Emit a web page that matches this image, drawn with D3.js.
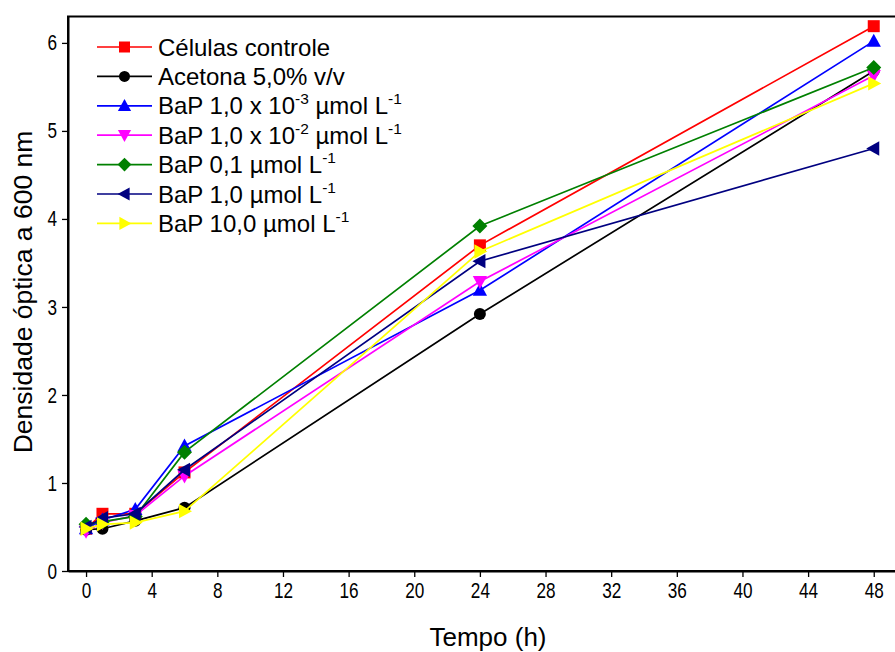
<!DOCTYPE html>
<html>
<head>
<meta charset="utf-8">
<script src="https://cdn.jsdelivr.net/npm/d3@7"></script>
<style>
  html, body { margin: 0; padding: 0; background: #fff; }
  svg { display: block; }
  text { font-family: "Liberation Sans", Arial, sans-serif; fill: #000; }
</style>
</head>
<body>
<svg id="chart" width="895" height="652"></svg>
<script>
// Sampling times (h)
const times = [0, 1, 3, 6, 24, 48];

// Optical density at 600 nm for each treatment
const controle   = [0.48, 0.65, 0.65, 1.12, 3.70, 6.19];
const acetona    = [0.47, 0.48, 0.57, 0.72, 2.92, 5.68];
const bap1e3     = [0.48, 0.58, 0.70, 1.42, 3.19, 6.02];
const bap1e2     = [0.45, 0.55, 0.63, 1.08, 3.29, 5.63];
const bap01      = [0.53, 0.56, 0.62, 1.35, 3.92, 5.72];
const bap10      = [0.50, 0.60, 0.65, 1.15, 3.52, 4.80];
const bap100     = [0.48, 0.53, 0.55, 0.68, 3.63, 5.54];

// Legend labels: pieces of text, superscript pieces flagged
const labels = [
  [["Células controle"]],
  [["Acetona 5,0% v/v"]],
  [["BaP 1,0 x 10"], ["-3", true], [" µmol L"], ["-1", true]],
  [["BaP 1,0 x 10"], ["-2", true], [" µmol L"], ["-1", true]],
  [["BaP 0,1 µmol L"], ["-1", true]],
  [["BaP 1,0 µmol L"], ["-1", true]],
  [["BaP 10,0 µmol L"], ["-1", true]]
];

const xTicks = [0, 4, 8, 12, 16, 20, 24, 28, 32, 36, 40, 44, 48];
const yTicks = [0, 1, 2, 3, 4, 5, 6];

const series = [
  { values: controle, color: "#ff0000", symbol: "square" },
  { values: acetona,  color: "#000000", symbol: "circle" },
  { values: bap1e3,   color: "#0000ff", symbol: "up" },
  { values: bap1e2,   color: "#ff00ff", symbol: "down" },
  { values: bap01,    color: "#008000", symbol: "diamond" },
  { values: bap10,    color: "#000080", symbol: "left" },
  { values: bap100,   color: "#ffff00", symbol: "right" }
];

const svg = d3.select("#chart");
const plotL = 68, plotR = 900, plotT = 16.5, plotB = 571;

const x = d3.scaleLinear().domain([-1.1, 49.6]).range([plotL, plotR]);
const y = d3.scaleLinear().domain([0, 6.3]).range([plotB, plotT]);

// Frame
svg.append("rect")
  .attr("x", plotL).attr("y", plotT)
  .attr("width", plotR - plotL).attr("height", plotB - plotT)
  .attr("fill", "none").attr("stroke", "#000").attr("stroke-width", 2);

// Axes (condensed digit labels)
const xAxis = svg.append("g")
  .attr("transform", `translate(0,${plotB})`)
  .call(d3.axisBottom(x).tickValues(xTicks).tickFormat(d3.format("d"))
    .tickSize(6).tickSizeOuter(0).tickPadding(5));
const yAxis = svg.append("g")
  .attr("transform", `translate(${plotL},0)`)
  .call(d3.axisLeft(y).tickValues(yTicks).tickFormat(d3.format("d"))
    .tickSize(6).tickSizeOuter(0).tickPadding(5));

[xAxis, yAxis].forEach(g => {
  g.select(".domain").attr("stroke-width", 2);
  g.selectAll(".tick line").attr("stroke-width", 1.3);
  g.selectAll("text")
    .style("font-family", "'Liberation Sans', Arial, sans-serif")
    .style("font-size", "22px");
});
xAxis.selectAll(".tick text").attr("transform", "scale(0.78,1)");
yAxis.selectAll(".tick text").attr("x", -14).attr("transform", "scale(0.78,1)");

// Axis titles
svg.append("text")
  .attr("x", 488).attr("y", 646)
  .attr("text-anchor", "middle")
  .style("font-size", "26px")
  .text("Tempo (h)");
svg.append("text")
  .attr("transform", "translate(32,292) rotate(-90)")
  .attr("text-anchor", "middle")
  .style("font-size", "26.5px")
  .text("Densidade óptica a 600 nm");

// Marker shapes
function markerPath(sym, s) {
  const h = s / 2;
  switch (sym) {
    case "square":  return `M${-h},${-h}H${h}V${h}H${-h}Z`;
    case "circle":  return d3.symbol(d3.symbolCircle, Math.PI * h * h)();
    case "up":      return `M0,${-h * 1.15}L${h * 1.1},${h * 0.85}L${-h * 1.1},${h * 0.85}Z`;
    case "down":    return `M0,${h * 1.15}L${h * 1.1},${-h * 0.85}L${-h * 1.1},${-h * 0.85}Z`;
    case "left":    return `M${-h * 1.15},0L${h * 0.85},${-h * 1.1}L${h * 0.85},${h * 1.1}Z`;
    case "right":   return `M${h * 1.15},0L${-h * 0.85},${-h * 1.1}L${-h * 0.85},${h * 1.1}Z`;
    case "diamond": return `M0,${-h * 1.25}L${h * 1.25},0L0,${h * 1.25}L${-h * 1.25},0Z`;
  }
}
const sizeOf = sym => ({ square: 12, circle: 12, up: 13, down: 13, left: 13, right: 13, diamond: 12 })[sym];

const line = d3.line().x((d, i) => x(times[i])).y(d => y(d));

series.forEach(s => {
  const g = svg.append("g");
  g.append("path")
    .datum(s.values)
    .attr("d", line)
    .attr("fill", "none")
    .attr("stroke", s.color)
    .attr("stroke-width", 1.7);
  g.selectAll("path.m")
    .data(s.values)
    .join("path")
    .attr("class", "m")
    .attr("transform", (d, i) => `translate(${x(times[i])},${y(d)})`)
    .attr("d", markerPath(s.symbol, sizeOf(s.symbol)))
    .attr("fill", s.color);
});

// Legend
const lg = svg.append("g");
series.forEach((s, i) => {
  const cy = 47 + i * 29.4;
  lg.append("line")
    .attr("x1", 97).attr("x2", 152).attr("y1", cy).attr("y2", cy)
    .attr("stroke", s.color).attr("stroke-width", 1.7);
  lg.append("path")
    .attr("transform", `translate(124.5,${cy})`)
    .attr("d", markerPath(s.symbol, sizeOf(s.symbol) - 1))
    .attr("fill", s.color);
  const t = lg.append("text")
    .attr("x", 158).attr("y", cy + 8.5)
    .style("font-size", "24px");
  let raised = false;
  labels[i].forEach(([str, sup]) => {
    const dy = sup ? (raised ? 0 : -10) : (raised ? 10 : 0);
    raised = !!sup;
    t.append("tspan")
      .attr("dy", dy)
      .style("font-size", sup ? "15.5px" : "24px")
      .text(str);
  });
});
</script>
</body>
</html>
